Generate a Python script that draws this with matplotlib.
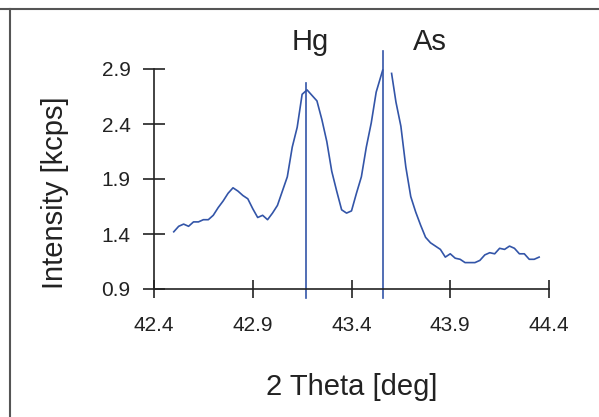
import numpy as np
import matplotlib.pyplot as plt
from matplotlib.lines import Line2D

plt.rcParams['font.family'] = ['Liberation Sans', 'DejaVu Sans']

# spectrum (NaN = gap in the trace)
two_theta = [42.500, 42.525, 42.550, 42.575, 42.600, 42.625, 42.650, 42.675,
             42.700, 42.725, 42.750, 42.775, 42.800, 42.825, 42.850, 42.875,
             42.900, 42.925, 42.950, 42.975, 43.000, 43.025, 43.050, 43.075,
             43.100, 43.125, 43.150, 43.175, 43.200, 43.225, 43.250, 43.275,
             43.300, 43.325, 43.350, 43.375, 43.400, 43.425, 43.450, 43.475,
             43.500, 43.525, 43.558, 43.580, 43.603, 43.625, 43.650, 43.675,
             43.700, 43.725, 43.750, 43.775, 43.800, 43.825, 43.850, 43.875,
             43.900, 43.925, 43.950, 43.975, 44.000, 44.025, 44.050, 44.075,
             44.100, 44.125, 44.150, 44.175, 44.200, 44.225, 44.250, 44.275,
             44.300, 44.325, 44.350]
intensity = [1.42, 1.47, 1.49, 1.47, 1.51, 1.51, 1.53, 1.53,
             1.57, 1.64, 1.70, 1.77, 1.82, 1.79, 1.75, 1.72,
             1.63, 1.55, 1.57, 1.53, 1.59, 1.66, 1.79, 1.92,
             2.19, 2.37, 2.67, 2.71, 2.66, 2.61, 2.44, 2.24,
             1.97, 1.79, 1.62, 1.59, 1.61, 1.77, 1.92, 2.19,
             2.41, 2.69, 2.89, np.nan, 2.86, 2.60, 2.38, 2.01,
             1.74, 1.60, 1.48, 1.37, 1.32, 1.29, 1.26, 1.19,
             1.22, 1.18, 1.17, 1.14, 1.14, 1.14, 1.16, 1.21,
             1.23, 1.22, 1.27, 1.26, 1.29, 1.27, 1.22, 1.22,
             1.17, 1.17, 1.19]

peak_names = ['Hg', 'As']
peak_pos = [43.168, 43.561]
peak_top = [2.77, 3.06]

xticks = [42.4, 42.9, 43.4, 43.9, 44.4]
yticks = [0.9, 1.4, 1.9, 2.4, 2.9]

blue = '#3355a8'
ink = '#222222'

fig = plt.figure(figsize=(5.99, 4.17), dpi=100)
ax = fig.add_axes([154 / 599, 1 - 289 / 417, 395 / 599, 220 / 417])

ax.plot(two_theta, intensity, color=blue, lw=1.2)

for name, pos, top in zip(peak_names, peak_pos, peak_top):
    ax.plot([pos, pos], [0.818, top], color=blue, lw=1.2, clip_on=False)

ax.text(43.19, 3.15, 'Hg', fontsize=21, color=ink, ha='center', va='center')
ax.text(43.795, 3.15, 'As', fontsize=21, color=ink, ha='center', va='center')

ax.set_xlim(42.4, 44.4)
ax.set_ylim(0.9, 2.9)
ax.set_xticks(xticks)
ax.set_yticks(yticks)
ax.set_xticklabels([f'{t:.1f}' for t in xticks])
ax.set_yticklabels([f'{t:.1f}' for t in yticks])

for side in ['top', 'right']:
    ax.spines[side].set_visible(False)
for side in ['left', 'bottom']:
    ax.spines[side].set_color(ink)
    ax.spines[side].set_linewidth(1.2)

ax.tick_params(axis='x', direction='inout', length=13, width=1.2, color=ink,
               labelsize=15, labelcolor=ink, pad=13)
ax.tick_params(axis='y', direction='inout', length=16, width=1.2, color=ink,
               labelsize=15, labelcolor=ink, pad=9)

ax.set_xlabel('2 Theta [deg]', fontsize=21, color=ink)
ax.set_ylabel('Intensity [kcps]', fontsize=21, color=ink)
ax.xaxis.set_label_coords(0.501, -0.445)
ax.xaxis.label.set_va('center')
ax.yaxis.set_label_coords(-0.25, 0.44)
ax.yaxis.label.set_va('center')

# grey frame on top and left of the picture
fig.add_artist(Line2D([0, 1], [1 - 9 / 417, 1 - 9 / 417], transform=fig.transFigure,
                      color='#555555', lw=1.5))
fig.add_artist(Line2D([9.5 / 599, 9.5 / 599], [0, 1 - 9 / 417], transform=fig.transFigure,
                      color='#555555', lw=1.5))

fig.savefig('out.png', dpi=100)
